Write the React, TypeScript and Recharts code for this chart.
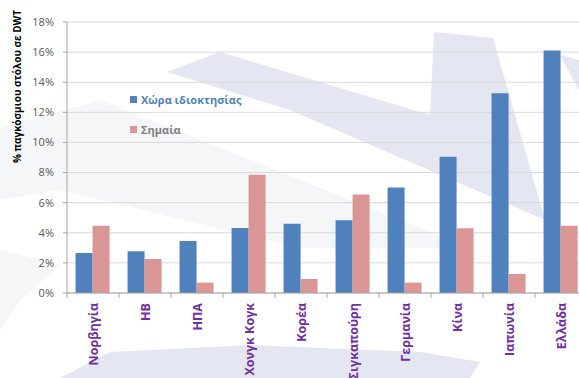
import { Bar, BarChart, CartesianGrid, XAxis, YAxis } from "recharts";

const countries = [
  "Νορβηγία", "ΗΒ", "ΗΠΑ", "Χονγκ Κογκ", "Κορέα",
  "Σιγκαπούρη", "Γερμανία", "Κίνα", "Ιαπωνία", "Ελλάδα",
];
const ownership = [2.66, 2.77, 3.45, 4.32, 4.6, 4.83, 7.0, 9.05, 13.26, 16.1];
const flag = [4.47, 2.26, 0.69, 7.86, 0.93, 6.55, 0.69, 4.3, 1.26, 4.47];
const yTicks = [0, 2, 4, 6, 8, 10, 12, 14, 16, 18];

const data = countries.map((c, i) => ({ country: c, ownership: ownership[i], flag: flag[i] }));

const FONT = "'Open Sans', 'Noto Sans', sans-serif";
const BLUE = "#4F81BD";
const PINK = "#D99694";

// faint watermark behind the plot
function Watermark() {
  return (
    <svg width={579} height={378} style={{ position: "absolute", left: 0, top: 0 }}>
      <polygon points="0,128 100,100 440,236 440,248 300,248 60,190 0,200" fill="#F5F6F8" />
      <polygon points="0,250 60,265 20,300 0,330" fill="#F5F6F8" />
      <polygon points="167,72 220,52 430,115 434,32 493,38 545,220 290,110" fill="#E4E6F1" />
      <polygon points="60,378 110,352 250,345 420,352 480,362 470,378" fill="#E4E6F1" />
      <polygon points="560,55 579,60 579,90" fill="#E4E6F1" />
    </svg>
  );
}

function CategoryTick(props: any) {
  const { x, y, payload, band } = props;
  return (
    <g>
      <line x1={x - band / 2} x2={x - band / 2} y1={y - 8} y2={y - 3} stroke="#A6A6A6" />
      <text
        x={0}
        y={0}
        transform={`translate(${x + 5},${y + 2}) rotate(-90)`}
        textAnchor="end"
        fill="#7030A0"
        fontSize={12.5}
        fontWeight={700}
        fontFamily={FONT}
      >
        {payload.value}
      </text>
    </g>
  );
}

function LegendBox() {
  const items = [
    { label: "Χώρα ιδιοκτησίας", color: BLUE, text: BLUE },
    { label: "Σημαία", color: PINK, text: "#808080" },
  ];
  return (
    <div style={{ position: "absolute", left: 130, top: 84, fontFamily: FONT, fontSize: 11, fontWeight: 700 }}>
      {items.map((it) => (
        <div key={it.label} style={{ display: "flex", alignItems: "center", height: 30 }}>
          <span style={{ width: 7, height: 7, background: it.color, marginRight: 4, display: "inline-block" }} />
          <span style={{ color: it.text }}>{it.label}</span>
        </div>
      ))}
    </div>
  );
}

export default function App() {
  const plotWidth = 520;
  const band = plotWidth / countries.length;
  return (
    <div style={{ position: "absolute", left: 0, top: 0, width: 579, height: 378, overflow: "hidden", background: "#fff" }}>
      <Watermark />
      <div style={{ position: "absolute", left: 0, top: 0 }}>
        <BarChart
          width={600}
          height={378}
          data={data}
          margin={{ top: 22, right: 600 - 67 - plotWidth, bottom: 0, left: 0 }}
          barCategoryGap="16.5%"
          barGap={0}
        >
          <CartesianGrid vertical={false} stroke="#D9D9D9" />
          <YAxis
            width={67}
            domain={[0, 18]}
            ticks={yTicks}
            interval={0}
            tickFormatter={(v) => `${v}%`}
            tick={{ fill: "#595959", fontSize: 11, fontFamily: FONT }}
            axisLine={{ stroke: "#A6A6A6" }}
            tickLine={{ stroke: "#A6A6A6" }}
            tickSize={4}
            tickMargin={9}
            label={{
              value: "% παγκόσμιου στόλου σε DWT",
              position: "insideTopLeft",
              content: (p: any) => (
                <text
                  transform={`translate(${p.viewBox.x + 21},${p.viewBox.y - 12}) rotate(-90)`}
                  textAnchor="end"
                  fontSize={10}
                  fontWeight={700}
                  fontFamily={FONT}
                  fill="#000"
                >
                  % παγκόσμιου στόλου σε DWT
                </text>
              ),
            }}
          />
          <XAxis
            dataKey="country"
            interval={0}
            height={85}
            axisLine={{ stroke: "#A6A6A6" }}
            tickLine={false}
            tick={(p: any) => <CategoryTick {...p} band={band} />}
          />
          <Bar dataKey="ownership" fill={BLUE} isAnimationActive={false} />
          <Bar dataKey="flag" fill={PINK} isAnimationActive={false} />
        </BarChart>
      </div>
      <LegendBox />
    </div>
  );
}
